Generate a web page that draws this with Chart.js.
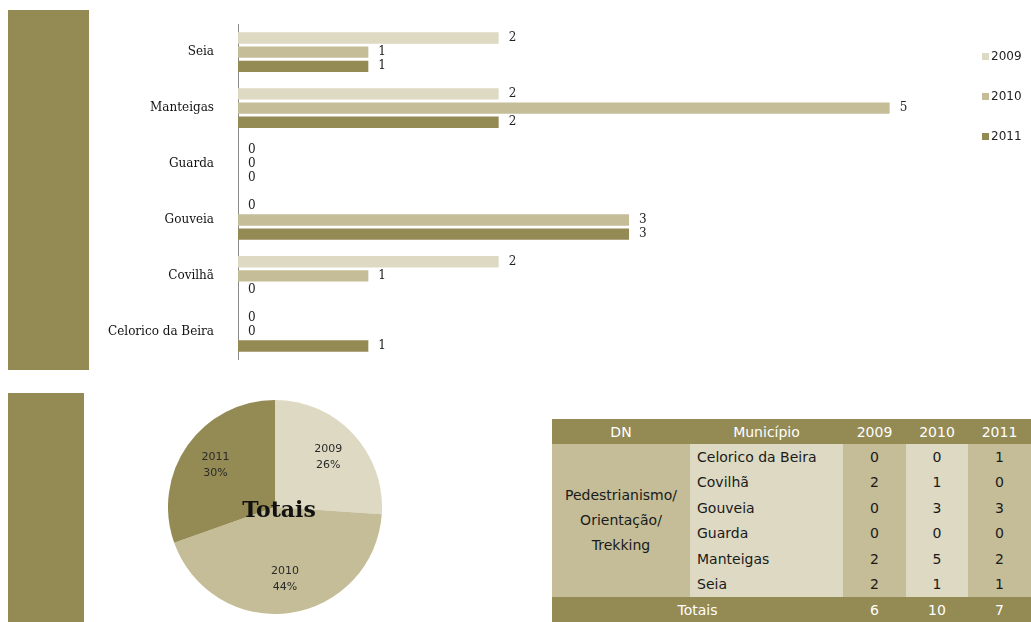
<!DOCTYPE html>
<html>
<head>
<meta charset="utf-8">
<script src="https://cdn.jsdelivr.net/npm/chart.js@4/dist/chart.umd.min.js"></script>
<style>
  html, body { margin:0; padding:0; background:#fff; width:1031px; height:622px; overflow:hidden; position:relative; }
  .block { position:absolute; background:#948A54; }
  #barWrap { position:absolute; left:90px; top:1px; width:941px; height:382px; }
  #pieWrap { position:absolute; left:168px; top:400px; width:214px; height:214px; }
  #tbl { position:absolute; left:552px; top:419px; width:479px; border-collapse:collapse;
         font-family:"DejaVu Sans", sans-serif; font-size:14px; color:#1a1a1a; }
  #tbl td, #tbl th { padding:0; border:none; font-weight:normal; }
  #tbl .hd th { background:#948A54; color:#fff; height:25px; text-align:center; }
  #tbl .ft td { background:#948A54; color:#fff; height:25px; text-align:center; }
  #tbl td.dn { background:#C4BD97; text-align:center; line-height:25px; width:138px; }
  #tbl td.mun { background:#DDD9C3; text-align:left; padding-left:7px; width:146px; height:25.5px; }
  #tbl td.c1 { background:#C4BD97; text-align:center; width:63px; }
  #tbl td.c2 { background:#DDD9C3; text-align:center; width:62px; }
  #tbl td.c3 { background:#C4BD97; text-align:center; width:63px; }
</style>
</head>
<body>
<div class="block" style="left:8px; top:10px; width:81px; height:360px;"></div>
<div class="block" style="left:8px; top:393px; width:76px; height:229px;"></div>
<div id="barWrap"><canvas id="bar" width="941" height="382"></canvas></div>
<div id="pieWrap"><canvas id="pie" width="214" height="214"></canvas></div>
<table id="tbl"></table>
<script>
// ---- data (table order) ----
const municipios = ['Celorico da Beira', 'Covilhã', 'Gouveia', 'Guarda', 'Manteigas', 'Seia'];
const years = ['2009', '2010', '2011'];
const v2009 = [0, 2, 0, 0, 2, 2];
const v2010 = [0, 1, 3, 0, 5, 1];
const v2011 = [1, 0, 3, 0, 2, 1];
const totais = [6, 10, 7];
const totaisPct = ['26%', '44%', '30%'];
const dnLines = ['Pedestrianismo/', 'Orientação/', 'Trekking'];
const colors = ['#DDD9C3', '#C4BD97', '#948A54'];

// ---- bar chart ----
const series = [v2009, v2010, v2011];
const chartCats = municipios.slice().reverse();

const barLabels = {
  id: 'barLabels',
  afterDatasetsDraw(chart) {
    const ctx = chart.ctx;
    ctx.save();
    ctx.font = '12px "DejaVu Serif", serif';
    ctx.fillStyle = '#222';
    ctx.textAlign = 'left';
    ctx.textBaseline = 'middle';
    chart.data.datasets.forEach((ds, i) => {
      const meta = chart.getDatasetMeta(i);
      meta.data.forEach((el, j) => {
        ctx.fillText(String(ds.data[j]), el.x + 10, el.y);
      });
    });
    ctx.restore();
  },
  afterDraw(chart) {
    const ctx = chart.ctx;
    ctx.save();
    ctx.font = '12px "DejaVu Sans", sans-serif';
    ctx.textBaseline = 'middle';
    ctx.textAlign = 'left';
    chart.data.datasets.forEach((ds, i) => {
      const y = 56 + i * 40;
      ctx.fillStyle = ds.backgroundColor;
      ctx.fillRect(892, y - 4, 7, 7);
      ctx.fillStyle = '#222';
      ctx.fillText(ds.label, 901, y);
    });
    ctx.restore();
  }
};

new Chart(document.getElementById('bar'), {
  type: 'bar',
  data: {
    labels: chartCats,
    datasets: years.map((y, i) => ({
      label: y,
      data: series[i].slice().reverse(),
      backgroundColor: colors[i],
      borderWidth: 0,
      categoryPercentage: 0.76,
      barPercentage: 0.8
    }))
  },
  options: {
    indexAxis: 'y',
    responsive: false,
    animation: false,
    layout: { padding: { top: 0, bottom: 0, right: 11, left: 0 } },
    plugins: { legend: { display: false }, tooltip: { enabled: false } },
    scales: {
      x: { display: false, min: 0, max: 6 },
      y: {
        grid: { display: false },
        border: { display: true, color: '#8a8a8a', width: 1 },
        ticks: { padding: 16, color: '#111', font: { family: '"DejaVu Serif", serif', size: 12 } },
        afterFit(s) { s.width = 148; }
      }
    }
  },
  plugins: [barLabels]
});

// ---- pie chart ----
const pieLabels = {
  id: 'pieLabels',
  afterDatasetsDraw(chart) {
    const ctx = chart.ctx;
    const meta = chart.getDatasetMeta(0);
    ctx.save();
    ctx.font = '11px "DejaVu Sans", sans-serif';
    ctx.fillStyle = '#2a2a2a';
    ctx.textAlign = 'center';
    ctx.textBaseline = 'middle';
    meta.data.forEach((arc, i) => {
      const mid = (arc.startAngle + arc.endAngle) / 2;
      const r = arc.outerRadius * 0.68;
      const x = arc.x + Math.cos(mid) * r;
      const y = arc.y + Math.sin(mid) * r;
      ctx.fillText(chart.data.labels[i], x, y - 8);
      ctx.fillText(totaisPct[i], x, y + 8);
    });
    ctx.font = 'bold 22px "DejaVu Serif", serif';
    ctx.fillStyle = '#111';
    const a0 = meta.data[0];
    ctx.fillText('Totais', a0.x + 4, a0.y + 4);
    ctx.restore();
  }
};

new Chart(document.getElementById('pie'), {
  type: 'pie',
  data: {
    labels: years,
    datasets: [{ data: totais, backgroundColor: colors, borderWidth: 0 }]
  },
  options: {
    responsive: false,
    animation: false,
    layout: { padding: 0 },
    plugins: { legend: { display: false }, tooltip: { enabled: false } }
  },
  plugins: [pieLabels]
});

// ---- table ----
const tbl = document.getElementById('tbl');
let html = '<tr class="hd"><th>DN</th><th>Município</th>' + years.map(y => '<th>' + y + '</th>').join('') + '</tr>';
municipios.forEach((m, i) => {
  html += '<tr>';
  if (i === 0) html += '<td class="dn" rowspan="' + municipios.length + '">' + dnLines.join('<br>') + '</td>';
  html += '<td class="mun">' + m + '</td><td class="c1">' + v2009[i] + '</td><td class="c2">' + v2010[i] + '</td><td class="c3">' + v2011[i] + '</td></tr>';
});
html += '<tr class="ft"><td colspan="2">Totais</td>' + totais.map(t => '<td>' + t + '</td>').join('') + '</tr>';
tbl.innerHTML = html;
</script>
</body>
</html>
